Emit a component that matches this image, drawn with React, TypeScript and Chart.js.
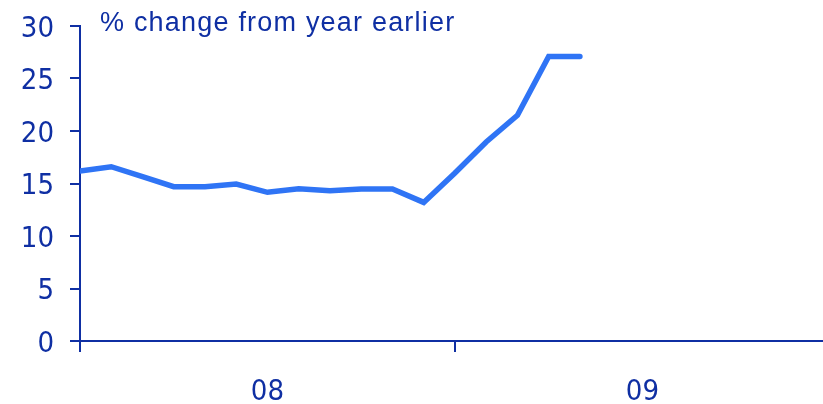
import React, { useEffect, useRef } from "react";
import { Chart, registerables } from "chart.js";

Chart.register(...registerables);

const months = [
  "Jan 08", "Feb 08", "Mar 08", "Apr 08", "May 08", "Jun 08", "Jul 08", "Aug 08",
  "Sep 08", "Oct 08", "Nov 08", "Dec 08", "Jan 09", "Feb 09", "Mar 09", "Apr 09", "May 09",
];
const values = [16.2, 16.6, 15.65, 14.7, 14.7, 14.95, 14.16, 14.5, 14.31, 14.48, 14.48, 13.2, 16.0, 18.95, 21.5, 27.1, 27.1];
const yearLabels = ["08", "09"];
const yTicks = [0, 5, 10, 15, 20, 25, 30];
const subtitle = "% change from year earlier";

const AXIS = "#0f2fa3";
const LINE = "#2f74f5";
const TICK_FONT = "'Liberation Sans Narrow', 'DejaVu Sans Condensed', 'Liberation Sans', Arial, sans-serif";
const TEXT_FONT = "'Liberation Sans', Arial, sans-serif";

export default function App() {
  const ref = useRef<HTMLCanvasElement | null>(null);

  useEffect(() => {
    document.body.style.margin = "0";
    const canvas = ref.current;
    if (!canvas) return;
    const data = values.map((v, i) => ({ x: i, y: v, label: months[i] }));
    const subtitlePlugin = {
      id: "subtitleText",
      afterDraw(chart: any) {
        const ctx = chart.ctx;
        ctx.save();
        ctx.fillStyle = AXIS;
        ctx.font = `27px ${TEXT_FONT}`;
        try {
          (ctx as any).letterSpacing = "1.2px";
        } catch (e) {}
        ctx.textBaseline = "alphabetic";
        ctx.textAlign = "left";
        ctx.fillText(subtitle, 100, 31);
        ctx.restore();
      },
    };
    const chart = new Chart(canvas, {
      type: "line",
      data: {
        datasets: [
          {
            label: subtitle,
            data,
            borderColor: LINE,
            borderWidth: 5.5,
            pointRadius: 0,
            tension: 0,
            fill: false,
            borderCapStyle: "round",
            borderJoinStyle: "miter",
          },
        ],
      },
      options: {
        animation: false,
        responsive: true,
        maintainAspectRatio: false,
        layout: { padding: { top: 26, right: 0, left: 0, bottom: 0 } },
        plugins: { legend: { display: false }, tooltip: { enabled: false }, title: { display: false } },
        scales: {
          x: {
            type: "linear",
            min: 0,
            max: 23.78,
            afterBuildTicks(scale: any) {
              scale.ticks = [0, 6, 12, 18].map((v) => ({ value: v }));
            },
            afterFit(scale: any) {
              scale.height = 63;
              scale.paddingLeft = 0;
              scale.paddingRight = 0;
            },
            border: { display: true, color: AXIS, width: 2 },
            grid: {
              drawOnChartArea: false,
              drawTicks: true,
              tickLength: 11,
              lineWidth: 2,
              tickColor: (ctx: any) => (ctx.tick && (ctx.tick.value === 0 || ctx.tick.value === 12) ? AXIS : "rgba(0,0,0,0)"),
            },
            ticks: {
              autoSkip: false,
              maxRotation: 0,
              padding: 23,
              color: AXIS,
              font: { family: TICK_FONT, size: 29 },
              callback: (v: any) => (v === 6 ? yearLabels[0] : v === 18 ? yearLabels[1] : ""),
            },
          },
          y: {
            min: 0,
            max: 30,
            afterBuildTicks(scale: any) {
              scale.ticks = yTicks.map((v) => ({ value: v }));
            },
            afterFit(scale: any) {
              scale.width = 80;
              scale.paddingTop = 0;
              scale.paddingBottom = 0;
            },
            border: { display: true, color: AXIS, width: 2 },
            grid: { drawOnChartArea: false, drawTicks: true, tickLength: 10, lineWidth: 2, tickColor: AXIS },
            ticks: {
              padding: 16,
              labelOffset: 3,
              color: AXIS,
              font: { family: TICK_FONT, size: 29 },
            },
          },
        },
      },
      plugins: [subtitlePlugin],
    });
    return () => chart.destroy();
  }, []);

  return (
    <div style={{ position: "absolute", left: 0, top: 0, width: 823, height: 404, background: "#fff" }}>
      <canvas ref={ref} />
    </div>
  );
}
